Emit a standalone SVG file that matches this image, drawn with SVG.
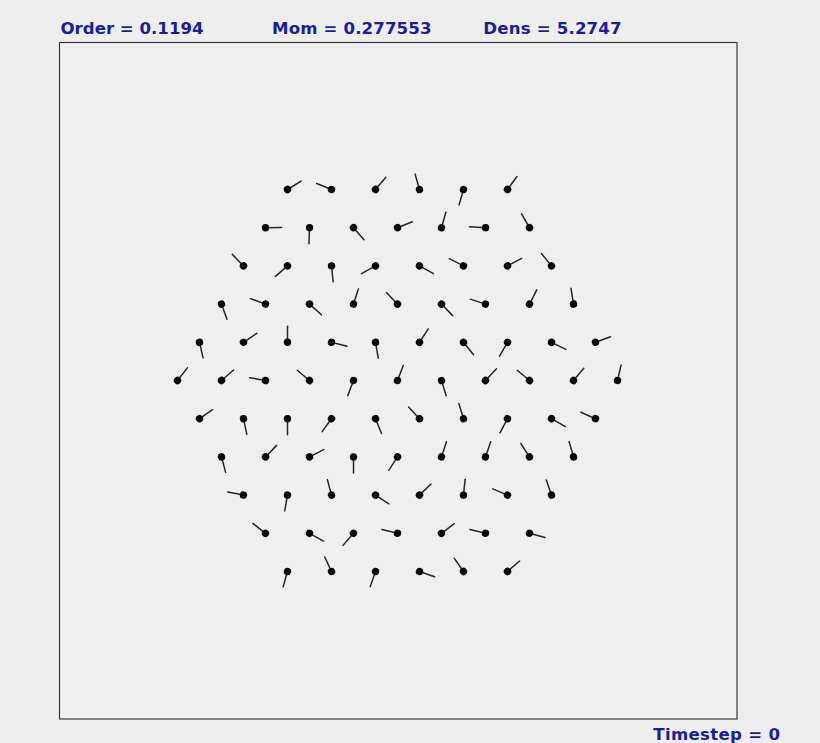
<svg xmlns="http://www.w3.org/2000/svg" xmlns:xlink="http://www.w3.org/1999/xlink" width="820" height="743" viewBox="0 0 820 743">
<style>
.lbl{font-family:"DejaVu Sans","Liberation Sans",sans-serif;font-weight:bold;font-size:16.6px;fill:#1c1ca0}
.stick{stroke:#262626;stroke-width:1.5;stroke-linecap:round}
.dot{fill:#050505}
</style>
<defs>
<g id="p"><line class="stick" x1="0" y1="0" x2="16" y2="0"/><circle class="dot" r="3.7"/></g>
</defs>
<rect x="0" y="0" width="820" height="743" fill="#eeeeee"/>
<rect id="frame" x="59.5" y="42.5" width="677.5" height="676.5" fill="#efefef" stroke="#3a3a3a" stroke-width="1.2"/>
<g id="labels">
<text class="lbl" x="60.5" y="33.5" textLength="143" lengthAdjust="spacing">Order = 0.1194</text>
<text class="lbl" x="272" y="33.5" textLength="159.5" lengthAdjust="spacing">Mom = 0.277553</text>
<text class="lbl" x="483.3" y="33.5" textLength="138.3" lengthAdjust="spacing">Dens = 5.2747</text>
<text class="lbl" x="653.3" y="740" textLength="126.7" lengthAdjust="spacing">Timestep = 0</text>
</g>
<g id="particles">
<g id="row1">
<use href="#p" transform="translate(287.5,189.5) rotate(-32)"/>
<use href="#p" transform="translate(331.5,189.5) rotate(-158)"/>
<use href="#p" transform="translate(375.5,189.5) rotate(-50)"/>
<use href="#p" transform="translate(419.5,189.5) rotate(-106)"/>
<use href="#p" transform="translate(463.5,189.5) rotate(106)"/>
<use href="#p" transform="translate(507.5,189.5) rotate(-54)"/>
</g>
<g id="row2">
<use href="#p" transform="translate(265.5,227.7) rotate(-1)"/>
<use href="#p" transform="translate(309.5,227.7) rotate(92)"/>
<use href="#p" transform="translate(353.5,227.7) rotate(49)"/>
<use href="#p" transform="translate(397.5,227.7) rotate(-22)"/>
<use href="#p" transform="translate(441.5,227.7) rotate(-74)"/>
<use href="#p" transform="translate(485.5,227.7) rotate(-177)"/>
<use href="#p" transform="translate(529.5,227.7) rotate(-120)"/>
</g>
<g id="row3">
<use href="#p" transform="translate(243.5,265.9) rotate(-134)"/>
<use href="#p" transform="translate(287.5,265.9) rotate(139)"/>
<use href="#p" transform="translate(331.5,265.9) rotate(84)"/>
<use href="#p" transform="translate(375.5,265.9) rotate(151)"/>
<use href="#p" transform="translate(419.5,265.9) rotate(29)"/>
<use href="#p" transform="translate(463.5,265.9) rotate(-153)"/>
<use href="#p" transform="translate(507.5,265.9) rotate(-28)"/>
<use href="#p" transform="translate(551.5,265.9) rotate(-129)"/>
</g>
<g id="row4">
<use href="#p" transform="translate(221.5,304.1) rotate(70)"/>
<use href="#p" transform="translate(265.5,304.1) rotate(-160)"/>
<use href="#p" transform="translate(309.5,304.1) rotate(42)"/>
<use href="#p" transform="translate(353.5,304.1) rotate(-72)"/>
<use href="#p" transform="translate(397.5,304.1) rotate(-134)"/>
<use href="#p" transform="translate(441.5,304.1) rotate(46)"/>
<use href="#p" transform="translate(485.5,304.1) rotate(-162)"/>
<use href="#p" transform="translate(529.5,304.1) rotate(-63)"/>
<use href="#p" transform="translate(573.5,304.1) rotate(-99)"/>
</g>
<g id="row5">
<use href="#p" transform="translate(199.5,342.3) rotate(77)"/>
<use href="#p" transform="translate(243.5,342.3) rotate(-34)"/>
<use href="#p" transform="translate(287.5,342.3) rotate(-90)"/>
<use href="#p" transform="translate(331.5,342.3) rotate(14)"/>
<use href="#p" transform="translate(375.5,342.3) rotate(80)"/>
<use href="#p" transform="translate(419.5,342.3) rotate(-57)"/>
<use href="#p" transform="translate(463.5,342.3) rotate(51)"/>
<use href="#p" transform="translate(507.5,342.3) rotate(120)"/>
<use href="#p" transform="translate(551.5,342.3) rotate(26)"/>
<use href="#p" transform="translate(595.5,342.3) rotate(-20)"/>
</g>
<g id="row6">
<use href="#p" transform="translate(177.5,380.5) rotate(-52)"/>
<use href="#p" transform="translate(221.5,380.5) rotate(-41)"/>
<use href="#p" transform="translate(265.5,380.5) rotate(-170)"/>
<use href="#p" transform="translate(309.5,380.5) rotate(-140)"/>
<use href="#p" transform="translate(353.5,380.5) rotate(111)"/>
<use href="#p" transform="translate(397.5,380.5) rotate(-69)"/>
<use href="#p" transform="translate(441.5,380.5) rotate(73)"/>
<use href="#p" transform="translate(485.5,380.5) rotate(-47)"/>
<use href="#p" transform="translate(529.5,380.5) rotate(-140)"/>
<use href="#p" transform="translate(573.5,380.5) rotate(-50)"/>
<use href="#p" transform="translate(617.5,380.5) rotate(-77)"/>
</g>
<g id="row7">
<use href="#p" transform="translate(199.5,418.7) rotate(-35)"/>
<use href="#p" transform="translate(243.5,418.7) rotate(78)"/>
<use href="#p" transform="translate(287.5,418.7) rotate(90)"/>
<use href="#p" transform="translate(331.5,418.7) rotate(126)"/>
<use href="#p" transform="translate(375.5,418.7) rotate(68)"/>
<use href="#p" transform="translate(419.5,418.7) rotate(-133)"/>
<use href="#p" transform="translate(463.5,418.7) rotate(-107)"/>
<use href="#p" transform="translate(507.5,418.7) rotate(118)"/>
<use href="#p" transform="translate(551.5,418.7) rotate(30)"/>
<use href="#p" transform="translate(595.5,418.7) rotate(-156)"/>
</g>
<g id="row8">
<use href="#p" transform="translate(221.5,456.9) rotate(75)"/>
<use href="#p" transform="translate(265.5,456.9) rotate(-46)"/>
<use href="#p" transform="translate(309.5,456.9) rotate(-27)"/>
<use href="#p" transform="translate(353.5,456.9) rotate(90)"/>
<use href="#p" transform="translate(397.5,456.9) rotate(123)"/>
<use href="#p" transform="translate(441.5,456.9) rotate(-72)"/>
<use href="#p" transform="translate(485.5,456.9) rotate(-71)"/>
<use href="#p" transform="translate(529.5,456.9) rotate(-123)"/>
<use href="#p" transform="translate(573.5,456.9) rotate(-106)"/>
</g>
<g id="row9">
<use href="#p" transform="translate(243.5,495.1) rotate(-169)"/>
<use href="#p" transform="translate(287.5,495.1) rotate(100)"/>
<use href="#p" transform="translate(331.5,495.1) rotate(-105)"/>
<use href="#p" transform="translate(375.5,495.1) rotate(33)"/>
<use href="#p" transform="translate(419.5,495.1) rotate(-44)"/>
<use href="#p" transform="translate(463.5,495.1) rotate(-84)"/>
<use href="#p" transform="translate(507.5,495.1) rotate(-157)"/>
<use href="#p" transform="translate(551.5,495.1) rotate(-109)"/>
</g>
<g id="row10">
<use href="#p" transform="translate(265.5,533.3) rotate(-142)"/>
<use href="#p" transform="translate(309.5,533.3) rotate(29)"/>
<use href="#p" transform="translate(353.5,533.3) rotate(131)"/>
<use href="#p" transform="translate(397.5,533.3) rotate(-166)"/>
<use href="#p" transform="translate(441.5,533.3) rotate(-37)"/>
<use href="#p" transform="translate(485.5,533.3) rotate(-166)"/>
<use href="#p" transform="translate(529.5,533.3) rotate(15)"/>
</g>
<g id="row11">
<use href="#p" transform="translate(287.5,571.5) rotate(106)"/>
<use href="#p" transform="translate(331.5,571.5) rotate(-115)"/>
<use href="#p" transform="translate(375.5,571.5) rotate(109)"/>
<use href="#p" transform="translate(419.5,571.5) rotate(19)"/>
<use href="#p" transform="translate(463.5,571.5) rotate(-125)"/>
<use href="#p" transform="translate(507.5,571.5) rotate(-41)"/>
</g>
</g>
</svg>
